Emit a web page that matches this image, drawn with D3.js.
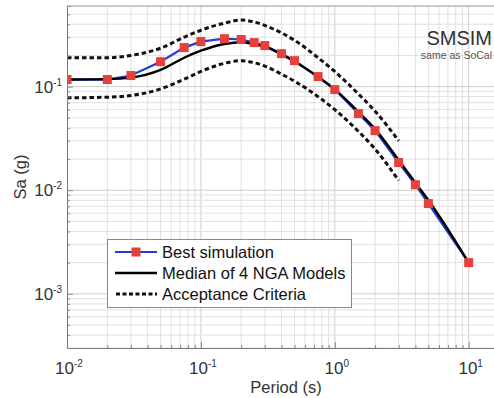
<!DOCTYPE html>
<html>
<head>
<meta charset="utf-8">
<script src="https://cdn.jsdelivr.net/npm/d3@7"></script>
<style>
  html, body { margin: 0; padding: 0; background: #fff; }
  svg { display: block; font-family: "Liberation Sans", Arial, sans-serif; }
</style>
</head>
<body>
<svg id="chart" width="494" height="398"></svg>
<script>
// ---- data ----
const periods = [0.01, 0.02, 0.03, 0.05, 0.075, 0.1, 0.15, 0.2, 0.25, 0.3, 0.4, 0.5, 0.75, 1, 1.5, 2, 3, 4, 5, 10];
const bestSim = [0.117, 0.117, 0.128, 0.174, 0.238, 0.272, 0.29, 0.285, 0.266, 0.249, 0.208, 0.178, 0.125, 0.0936, 0.0549, 0.0376, 0.0185, 0.0113, 0.00743, 0.0020];
const median  = [0.117, 0.118, 0.122, 0.145, 0.19, 0.222, 0.258, 0.268, 0.258, 0.243, 0.205, 0.175, 0.124, 0.094, 0.057, 0.039, 0.0195, 0.0118, 0.0080, 0.0020];
const accPeriods = [0.01, 0.02, 0.03, 0.05, 0.075, 0.1, 0.15, 0.2, 0.25, 0.3, 0.4, 0.5, 0.75, 1, 1.5, 2, 3];
const accUpper = [0.19, 0.19, 0.20, 0.235, 0.30, 0.35, 0.41, 0.44, 0.42, 0.39, 0.33, 0.28, 0.19, 0.14, 0.085, 0.058, 0.030];
const accLower = [0.078, 0.079, 0.082, 0.095, 0.118, 0.14, 0.168, 0.178, 0.17, 0.158, 0.132, 0.113, 0.08, 0.06, 0.037, 0.025, 0.0124];
const xTickValues = [0.01, 0.1, 1, 10];
const yTickValues = [0.001, 0.01, 0.1];
const seriesNames = ["Best simulation", "Median of 4 NGA Models", "Acceptance Criteria"];
const xLabel = "Period (s)";
const yLabel = "Sa (g)";
const title = "SMSIM";
const subtitle = "same as SoCal";

// ---- layout ----
const svg = d3.select("#chart");
const L = 67, R = 509, T = 6, B = 348;
const x = d3.scaleLog().domain([0.01, 20]).range([L, R]);
const y = d3.scaleLog().domain([3e-4, 0.6]).range([B, T]);

svg.append("defs").append("clipPath").attr("id", "clip")
  .append("rect").attr("x", L).attr("y", T).attr("width", R - L).attr("height", B - T);

const plot = svg.append("g");
plot.append("rect").attr("x", L).attr("y", T).attr("width", R - L).attr("height", B - T).attr("fill", "#fff");

function logTicks(lo, hi) {
  const out = [];
  for (let e = Math.floor(Math.log10(lo)); e <= Math.ceil(Math.log10(hi)); e++) {
    for (let m = 1; m <= 9; m++) {
      const v = m * Math.pow(10, e);
      if (v >= lo * 0.999 && v <= hi * 1.001) out.push(v);
    }
  }
  return out;
}
const xAll = logTicks(0.01, 20);
const yAll = logTicks(3e-4, 0.6);
const isMajor = v => Math.abs(Math.log10(v) - Math.round(Math.log10(v))) < 1e-6;

const grid = plot.append("g").attr("clip-path", "url(#clip)");
grid.selectAll("line.gx").data(xAll).join("line")
  .attr("x1", d => x(d)).attr("x2", d => x(d)).attr("y1", T).attr("y2", B)
  .attr("stroke", d => isMajor(d) ? "#cdcdcd" : "#e0e0e0").attr("stroke-width", 1);
grid.selectAll("line.gy").data(yAll).join("line")
  .attr("y1", d => y(d)).attr("y2", d => y(d)).attr("x1", L).attr("x2", R)
  .attr("stroke", d => isMajor(d) ? "#cdcdcd" : "#e0e0e0").attr("stroke-width", 1);

const xAxis = d3.axisBottom(x).tickValues(xAll).tickSize(-4).tickFormat("");
const yAxis = d3.axisLeft(y).tickValues(yAll).tickSize(-4).tickFormat("");
const gx = svg.append("g").attr("transform", `translate(0,${B})`).call(xAxis);
const gy = svg.append("g").attr("transform", `translate(${L},0)`).call(yAxis);
[gx, gy].forEach(g => {
  g.select(".domain").attr("stroke", "#777");
  g.selectAll(".tick line").attr("stroke", "#888");
});
gx.selectAll(".tick line").attr("y2", d => isMajor(d) ? -6 : -3);
gy.selectAll(".tick line").attr("x2", d => isMajor(d) ? 6 : 3);
svg.append("line").attr("x1", L).attr("x2", R).attr("y1", T).attr("y2", T).attr("stroke", "#999");

const tickColor = "#333";
xTickValues.forEach(v => {
  const e = Math.round(Math.log10(v));
  const t = svg.append("text").attr("x", x(v) + 2).attr("y", 374).attr("text-anchor", "middle")
    .attr("font-size", 17).attr("fill", tickColor);
  t.append("tspan").text("10");
  t.append("tspan").attr("dy", -7).attr("font-size", 10).text(String(e));
});
yTickValues.forEach(v => {
  const e = Math.round(Math.log10(v));
  const t = svg.append("text").attr("x", L - 5).attr("y", y(v) + 6).attr("text-anchor", "end")
    .attr("font-size", 17).attr("fill", tickColor);
  t.append("tspan").text("10");
  t.append("tspan").attr("dy", -7).attr("font-size", 10).text(String(e));
});

svg.append("text").attr("x", 286).attr("y", 393).attr("text-anchor", "middle")
  .attr("font-size", 16.5).attr("fill", tickColor).text(xLabel);
svg.append("text").attr("transform", `translate(26,${(T + B) / 2}) rotate(-90)`)
  .attr("text-anchor", "middle").attr("font-size", 16.5).attr("fill", tickColor).text(yLabel);

const lines = plot.append("g").attr("clip-path", "url(#clip)");
const lineGen = d3.line().x(d => x(d[0])).y(d => y(d[1])).curve(d3.curveMonotoneX);
const lineLin = d3.line().x(d => x(d[0])).y(d => y(d[1]));

const upperPts = accPeriods.map((p, i) => [p, accUpper[i]]);
const lowerPts = accPeriods.map((p, i) => [p, accLower[i]]);
const medPts = periods.map((p, i) => [p, median[i]]);
const simPts = periods.map((p, i) => [p, bestSim[i]]);

[upperPts, lowerPts].forEach(pts => {
  lines.append("path").attr("d", lineGen(pts)).attr("fill", "none")
    .attr("stroke", "#111").attr("stroke-width", 3).attr("stroke-dasharray", "4.5,3");
});
lines.append("path").attr("d", lineLin(simPts)).attr("fill", "none")
  .attr("stroke", "#1f3fd6").attr("stroke-width", 2.2);
lines.append("path").attr("d", lineGen(medPts)).attr("fill", "none")
  .attr("stroke", "#000").attr("stroke-width", 2.4);
lines.selectAll("rect.mk").data(simPts).join("rect")
  .attr("x", d => x(d[0]) - 4.5).attr("y", d => y(d[1]) - 4.5)
  .attr("width", 9).attr("height", 9).attr("fill", "#e5413a");

svg.append("text").attr("x", 492).attr("y", 45).attr("text-anchor", "end")
  .attr("font-size", 20).attr("fill", "#333").text(title);
svg.append("text").attr("x", 492).attr("y", 59).attr("text-anchor", "end")
  .attr("font-size", 10.5).attr("fill", "#555").text(subtitle);

const lg = svg.append("g");
lg.append("rect").attr("x", 107.5).attr("y", 239.5).attr("width", 244).attr("height", 68)
  .attr("fill", "#fff").attr("stroke", "#888");
const ly = [252, 273, 294];
lg.append("line").attr("x1", 115).attr("x2", 157).attr("y1", ly[0]).attr("y2", ly[0])
  .attr("stroke", "#1f3fd6").attr("stroke-width", 2.2);
lg.append("rect").attr("x", 136 - 4.5).attr("y", ly[0] - 4.5).attr("width", 9).attr("height", 9).attr("fill", "#e5413a");
lg.append("line").attr("x1", 115).attr("x2", 157).attr("y1", ly[1]).attr("y2", ly[1])
  .attr("stroke", "#000").attr("stroke-width", 2.4);
lg.append("line").attr("x1", 116).attr("x2", 157).attr("y1", ly[2]).attr("y2", ly[2])
  .attr("stroke", "#111").attr("stroke-width", 3).attr("stroke-dasharray", "4,2.5");
seriesNames.forEach((n, i) => {
  lg.append("text").attr("x", 162).attr("y", ly[i] + 6).attr("font-size", 16.5)
    .attr("fill", "#111").text(n);
});
</script>
</body>
</html>
